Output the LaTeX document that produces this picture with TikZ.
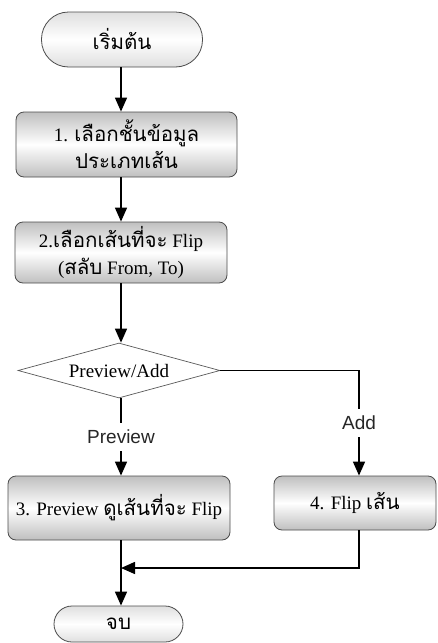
\documentclass[tikz,border=0pt]{standalone}
\usepackage{fontspec}
\setmainfont{Liberation Serif}
\newfontfamily\thai[Script=Thai,Scale=1.08]{Loma}
\newfontfamily\labelfont{Liberation Sans}
\usetikzlibrary{arrows.meta,shapes.geometric}
\begin{document}
\begin{tikzpicture}[x=1pt,y=-1pt,
  every node/.style={font=\fontsize{19}{27}\selectfont},
  box/.style={draw=black!70, line width=0.8pt, rounded corners=8pt,
    top color=gray!50, bottom color=gray!50, middle color=white,
    align=center, inner sep=0pt},
  term/.style={box, top color=gray!25, bottom color=gray!25, middle color=white},
  decision/.style={diamond, aspect=3.67, draw=black!65, line width=0.7pt,
    fill=white, inner sep=0pt},
  flow/.style={line width=1.5pt, draw=black},
  arrow/.style={flow, -{Triangle[length=14pt,width=12pt]}},
  edgelabel/.style={font=\labelfont\fontsize{19}{22}\selectfont,
    inner sep=7pt, text=black!85}
]
\useasboundingbox (0,0) rectangle (437,643);

% process steps
\node[term, minimum width=161pt, minimum height=55pt, rounded corners=27pt]
  (start) at (122,39.5) {\thai เริ่มต้น};
\node[box, minimum width=221pt, minimum height=65pt]
  (s1) at (126.5,144.5) {1. {\thai เลือกชั้นข้อมูล}\\{\thai ประเภทเส้น}};
\node[box, minimum width=212pt, minimum height=61pt]
  (s2) at (121,252.5) {2.{\thai เลือกเส้นที่จะ} Flip\\({\thai สลับ} From, To)};
\node[decision, minimum width=202pt, minimum height=55pt]
  (dec) at (119,370.5) {Preview/Add};
\node[box, minimum width=222pt, minimum height=64pt]
  (s3) at (119,508) {3. Preview {\thai ดูเส้นที่จะ} Flip};
\node[box, minimum width=162pt, minimum height=54pt]
  (s4) at (355,503) {4. Flip {\thai เส้น}};
\node[term, minimum width=129pt, minimum height=36pt, rounded corners=18pt]
  (stop) at (118.5,624) {\thai จบ};

% branch labels
\node[edgelabel] (lp) at (121,437) {Preview};
\node[edgelabel] (la) at (359,423) {Add};

% helper coordinates
\coordinate (spine) at (121,0);
\coordinate (join) at (121,568);

% connectors
\draw[arrow] (start.south -| spine) -- (s1.north -| spine);
\draw[arrow] (s1.south -| spine) -- (s2.north -| spine);
\draw[arrow] (s2.south -| spine) -- (dec.north -| spine);
\draw[flow] (dec.south -| spine) -- (lp.north);
\draw[arrow] (lp.south) -- (s3.north -| spine);
\draw[flow] (dec.east) -| (la.north);
\draw[arrow] (la.south) -- (s4.north -| la);
\draw[arrow] (s4.south -| la) |- (join);
\draw[arrow] (s3.south -| spine) -- (stop.north -| spine);
\end{tikzpicture}
\end{document}
